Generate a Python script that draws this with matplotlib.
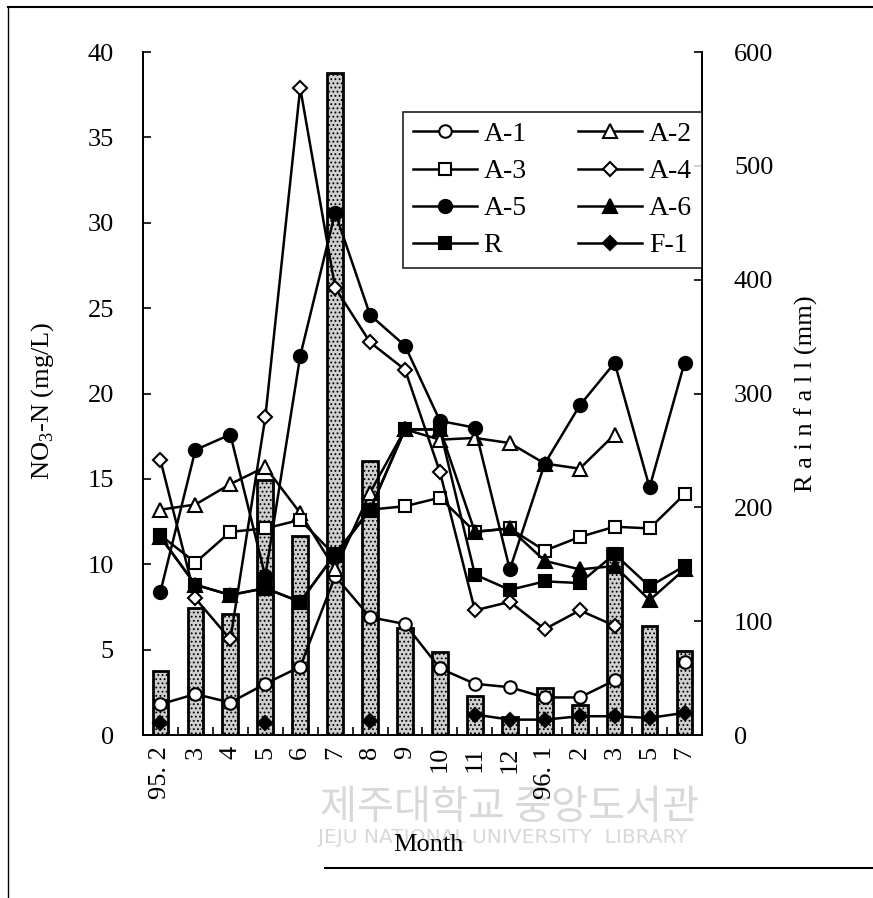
import numpy as np
import matplotlib
matplotlib.use("Agg")
import matplotlib.pyplot as plt
from matplotlib.lines import Line2D

# ---------------------------------------------------------------------------
# Data
# ---------------------------------------------------------------------------
nan = np.nan
months = ["95. 2", "3", "4", "5", "6", "7", "8", "9", "10", "11", "12",
          "96. 1", "2", "3", "5", "7"]
rainfall = [56, 112, 106, 224, 175, 582, 241, 94, 73, 34, 16, 41, 26, 164, 96, 74]

a1 = [1.8, 2.4, 1.9, 3.0, 4.0, 9.3, 6.9, 6.5, 3.9, 3.0, 2.8, 2.2, 2.2, 3.2, nan, 4.3]
a2 = [13.2, 13.5, 14.7, 15.7, 13.0, 9.7, 14.2, 17.9, 17.3, 17.4, 17.1, 15.9, 15.6, 17.6, nan, nan]
a3 = [11.7, 10.1, 11.9, 12.1, 12.6, 10.5, 13.2, 13.4, 13.9, 11.9, 12.1, 10.8, 11.6, 12.2, 12.1, 14.1]
a4 = [16.1, 8.0, 5.6, 18.6, 37.9, 26.2, 23.0, 21.4, 15.4, 7.3, 7.8, 6.2, 7.3, 6.4, nan, nan]
a5 = [8.4, 16.7, 17.6, 9.3, 22.2, 30.6, 24.6, 22.8, 18.4, 18.0, 9.7, 15.9, 19.3, 21.8, 14.5, 21.8]
a6 = [11.6, 8.8, 8.2, 8.6, 7.8, 10.6, 13.2, 17.9, 17.9, 11.9, 12.1, 10.2, 9.7, 9.9, 7.9, 9.7]
r = [11.6, 8.8, 8.2, 8.6, 7.8, 10.6, 13.2, 17.9, 17.9, 9.4, 8.5, 9.0, 8.9, 10.6, 8.7, 9.9]
f1 = [0.7, nan, nan, 0.7, nan, nan, 0.8, nan, nan, 1.2, 0.9, 0.9, 1.1, 1.1, 1.0, 1.3]

# ---------------------------------------------------------------------------
# Styles
# ---------------------------------------------------------------------------
SERIF = "Liberation Serif"
plt.rcParams["font.family"] = [SERIF, "DejaVu Serif"]
plt.rcParams["mathtext.fontset"] = "custom"
plt.rcParams["mathtext.rm"] = SERIF
plt.rcParams["hatch.linewidth"] = 0.8

TICK_FS = 19
LABEL_FS = 19
LW = 1.8

series = [
    # label, values, marker, face, size
    ("A-1", a1, "o", "white", 9),
    ("A-2", a2, "^", "white", 10),
    ("A-3", a3, "s", "white", 8.5),
    ("A-4", a4, "D", "white", 7),
    ("A-5", a5, "o", "black", 9.5),
    ("R", r, "s", "black", 9),
    ("A-6", a6, "^", "black", 10),
    ("F-1", f1, "D", "black", 7.5),
]

x = np.arange(len(months))

fig = plt.figure(figsize=(8.73, 8.98), dpi=100)
ax = fig.add_axes([0.1638, 0.1815, 0.6403, 0.7605])
ax2 = ax.twinx()

# rainfall bars behind the lines
ax2.bar(x, rainfall, width=0.45, facecolor="#cfcfcf", edgecolor="black",
        hatch="....", linewidth=2.0, zorder=1)
ax.set_zorder(ax2.get_zorder() + 1)
ax.patch.set_visible(False)

handles = {}
for i, (label, vals, mk, face, ms) in enumerate(series):
    (ln,) = ax.plot(x, vals, color="black", linewidth=LW, marker=mk,
                    markersize=ms, markerfacecolor=face,
                    markeredgecolor="black", markeredgewidth=1.5,
                    label=label, zorder=3 + i, clip_on=False)
    handles[label] = ln

ax.set_xlim(-0.5, len(months) - 0.5)
ax.set_ylim(0, 40)
ax2.set_ylim(0, 600)
ax.set_yticks(np.arange(0, 41, 5))
ax2.set_yticks(np.arange(0, 601, 100))

ax.set_xticks(x)
ax.set_xticklabels(months, rotation=90, fontsize=TICK_FS)
ax.set_xticks(np.arange(len(months) + 1) - 0.5, minor=True)
ax.tick_params(axis="x", which="major", length=0, pad=8)
ax.tick_params(axis="x", which="minor", direction="in", length=6, width=1.2)
ax.tick_params(axis="y", direction="in", length=6, width=1.2, pad=21,
               labelsize=TICK_FS)
ax2.tick_params(axis="y", direction="in", length=6, width=1.2, pad=23,
                labelsize=TICK_FS)
ax2.tick_params(axis="x", length=0)

for a in (ax, ax2):
    a.spines["top"].set_visible(False)
    for s in ("left", "right", "bottom"):
        a.spines[s].set_linewidth(1.3)

ax.set_ylabel(r"NO$_{\mathrm{3}}$-N (mg/L)", fontsize=LABEL_FS)
ax2.set_ylabel("R a i n f a l l (mm)", fontsize=LABEL_FS)
ax.set_xlabel("Month", fontsize=TICK_FS)
ax.yaxis.set_label_coords(-0.155, 0.49)
ax2.yaxis.set_label_coords(1.165, 0.5)
ax.xaxis.set_label_coords(0.51, -0.145)

order = ["A-1", "A-3", "A-5", "R", "A-2", "A-4", "A-6", "F-1"]
leg = ax.legend([handles[k] for k in order], order, ncol=2,
                loc="upper left", bbox_to_anchor=(0.4616, 0.8753),
                bbox_transform=fig.transFigure, borderaxespad=0,
                fontsize=20, frameon=True, fancybox=False,
                edgecolor="black", handlelength=2.3, handletextpad=0.25,
                columnspacing=1.85, labelspacing=0.42, borderpad=0.35)
leg.get_frame().set_linewidth(1.3)
leg.set_zorder(20)

# library watermark of the scanned source
fig.text(0.366, 0.088, "제주대학교 중앙도서관", fontsize=29, color="#cccccc",
         family=["Noto Sans CJK KR", "DejaVu Sans"], alpha=0.75, zorder=0)
fig.text(0.364, 0.061, "JEJU NATIONAL UNIVERSITY  LIBRARY", fontsize=14.5,
         color="#cccccc", family=["DejaVu Sans"], alpha=0.75, zorder=0)

# page frame of the scan
fig.add_artist(Line2D([0.009, 0.009], [0.0, 0.992], transform=fig.transFigure,
                      color="black", linewidth=1.0))
fig.add_artist(Line2D([0.009, 1.0], [0.992, 0.992], transform=fig.transFigure,
                      color="black", linewidth=1.5))
fig.add_artist(Line2D([0.372, 1.0], [0.033, 0.033], transform=fig.transFigure,
                      color="black", linewidth=1.5))

fig.savefig("out.png", dpi=100)
